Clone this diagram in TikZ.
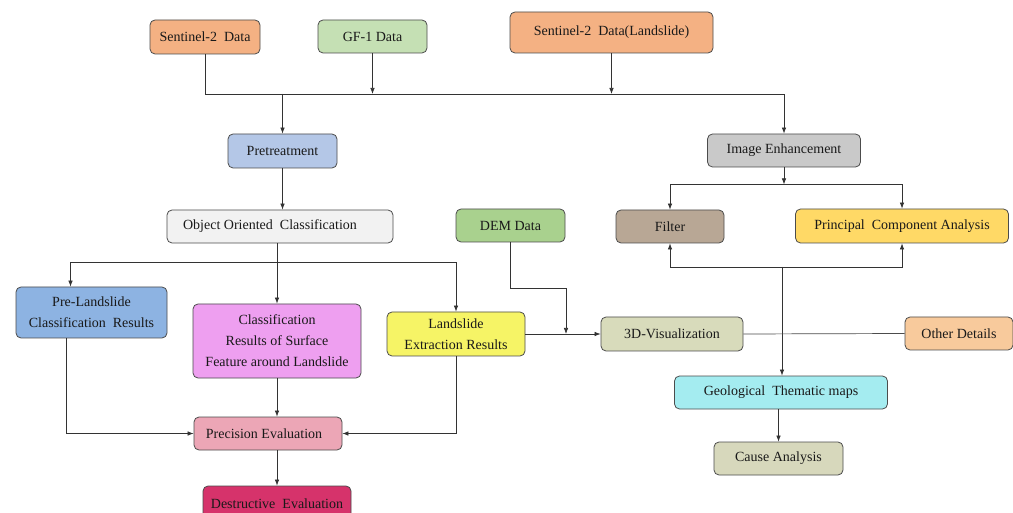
\documentclass[tikz,border=0pt]{standalone}
\usepackage{fontspec}
\setmainfont{Liberation Serif}
\usetikzlibrary{arrows.meta}

\definecolor{sentorange}{HTML}{F4B183}
\definecolor{gfgreen}{HTML}{C5E0B4}
\definecolor{pretblue}{HTML}{B4C7E7}
\definecolor{enhgray}{HTML}{C9C9C9}
\definecolor{oocgray}{HTML}{F2F2F2}
\definecolor{demgreen}{HTML}{A9D18E}
\definecolor{filtbrown}{HTML}{B8A795}
\definecolor{pcayellow}{HTML}{FFD966}
\definecolor{preblue}{HTML}{8DB3E2}
\definecolor{clsviolet}{HTML}{EE9FF0}
\definecolor{lseyellow}{HTML}{F6F466}
\definecolor{visolive}{HTML}{D8DBBB}
\definecolor{othorange}{HTML}{F8CA9C}
\definecolor{geocyan}{HTML}{A4ECF0}
\definecolor{cauolive}{HTML}{D7D8BC}
\definecolor{precpink}{HTML}{ECA6B6}
\definecolor{descrimson}{HTML}{D6336B}

\begin{document}
\begin{tikzpicture}[x=1pt,y=-1pt,
  box/.style={draw=black!70, line width=0.8pt, rounded corners=5pt, inner sep=2pt,
    align=center, text=black!90, font=\fontsize{14}{21}\selectfont},
  arr/.style={-{Latex[length=6pt,width=4.5pt]}, draw=black!80, line width=0.7pt},
  plain/.style={draw=black!70, line width=0.7pt}]
\fill[white] (0,0) rectangle (1013,513);
\useasboundingbox (0,0) rectangle (1013,513);

% data sources
\node[box, fill=sentorange, minimum width=110, minimum height=34] (s2) at (205,37) {Sentinel-2~~Data};
\node[box, fill=gfgreen, minimum width=109, minimum height=33] (gf) at (372.5,36.5) {GF-1 Data};
\node[box, fill=sentorange, minimum width=203, minimum height=41] (s2l) at (611.5,32.5) {Sentinel-2~~Data(Landslide)};

% left branch
\node[box, fill=pretblue, minimum width=109, minimum height=34] (pre) at (282.5,151) {Pretreatment};
\node[box, fill=oocgray, minimum width=226, minimum height=33] (ooc) at (280,226.5) {Object Oriented~~Classification\hspace{20pt}};
\node[box, fill=preblue, minimum width=151, minimum height=51] (prel) at (91.5,312.5) {Pre-Landslide\\Classification~~Results};
\node[box, fill=clsviolet, minimum width=168, minimum height=74] (cls) at (277,341) {Classification\\Results of Surface\\Feature around Landslide};
\node[box, fill=lseyellow, minimum width=138, minimum height=44] (lse) at (456,334) {Landslide\\Extraction Results};
\node[box, fill=precpink, minimum width=148, minimum height=33] (prec) at (268,433.5) {Precision Evaluation\hspace{8pt}};
\node[box, fill=descrimson, minimum width=148, minimum height=36] (des) at (277,504) {Destructive~~Evaluation};

% right branch
\node[box, fill=enhgray, minimum width=153, minimum height=33] (ie) at (784,150.5) {Image Enhancement};
\node[box, fill=filtbrown, minimum width=108, minimum height=33] (filt) at (670,226.5) {Filter};
\node[box, fill=pcayellow, minimum width=213, minimum height=34] (pca) at (902,226) {Principal~~Component Analysis};
\node[box, fill=demgreen, minimum width=109, minimum height=33] (dem) at (510.5,225.5) {DEM Data};
\node[box, fill=visolive, minimum width=142, minimum height=34] (vis) at (672,334) {3D-Visualization};
\node[box, fill=othorange, minimum width=108, minimum height=33] (oth) at (959,333.5) {Other Details};
\node[box, fill=geocyan, minimum width=213, minimum height=33] (geo) at (781,392.5) {Geological~~Thematic maps};
\node[box, fill=cauolive, minimum width=129, minimum height=33] (cau) at (778.5,458.5) {Cause Analysis};

\coordinate (bus) at (784,94);
\coordinate (split) at (277,262);
\coordinate (demc) at (566,288);
\coordinate (geosplit) at (782,267);

% connectors
\draw[arr] (s2.south) |- (bus) -- (ie.north);
\draw[arr] (gf.south) -- (gf.south |- bus);
\draw[arr] (s2l.south) -- (s2l.south |- bus);
\draw[arr] (pre.north |- bus) -- (pre.north);
\draw[arr] (pre.south) -- (pre.south |- ooc.north);
\draw[arr] (cls.north |- ooc.south) -- (cls.north);
\draw[arr] (split) -| ([xshift=-21pt]prel.north);
\draw[arr] (split) -| (lse.north);
\draw[arr] ([xshift=-25pt]prel.south) |- (prec.west);
\draw[arr] (cls.south) -- (cls.south |- prec.north);
\draw[arr] (lse.south) |- (prec.east);
\draw[arr] (des.north |- prec.south) -- (des.north);
\draw[arr] (ie.south) -- ++(0,17) coordinate (iesplit);
\draw[arr] (iesplit) -| (filt.north);
\draw[arr] (iesplit) -| (pca.north);
\draw[arr] (geosplit) -| (filt.south);
\draw[arr] (geosplit) -| (pca.south);
\draw[arr] (geosplit) -- (geosplit |- geo.north);
\draw[arr] (dem.south) |- (demc) -- (demc |- vis.west);
\draw[arr] (lse.east) -- (vis.west);
\draw[plain] (vis.east) -- (oth.west);
\draw[arr] (geo.south -| cau.north) -- (cau.north);
\end{tikzpicture}
\end{document}
